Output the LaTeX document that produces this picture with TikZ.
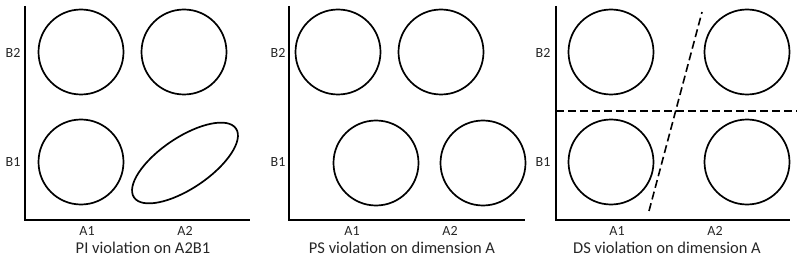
\documentclass[tikz,border=0pt]{standalone}
\usepackage{fontspec}
\setmainfont{Carlito}
\usetikzlibrary{shapes.geometric}
\tikzset{
    axis/.style={line width=1.8pt},
    cell/.style={circle, draw, line width=1.7pt, minimum size=85pt, inner sep=0pt},
    level/.style={font=\fontsize{14}{16}\selectfont, text=black!85},
    caption/.style={font=\fontsize{16.5}{18}\selectfont, text=black!85},
    split/.style={line width=1.6pt, dash pattern=on 8pt off 4pt}
}

\begin{document}
\begin{tikzpicture}[x=1pt, y=-1pt]
        \useasboundingbox (0,0) rectangle (800,259);
        % coordinates
        \coordinate (Otop) at (25,6);   \coordinate (O) at (25,220);  \coordinate (Oend) at (250,220);
        \coordinate (Ptop) at (289,6);  \coordinate (P) at (289,220); \coordinate (Pend) at (525,220);
        \coordinate (Qtop) at (556,6);  \coordinate (Q) at (556,220); \coordinate (Qend) at (790,220);
        % axes
        \draw[axis] (Otop) -- (O) -- (Oend);
        \draw[axis] (Ptop) -- (P) -- (Pend);
        \draw[axis] (Qtop) -- (Q) -- (Qend);
        % levels of B
        \foreach \p/\x in {O/13, P/278, Q/543}
        {
            \node[level] (\p B2) at (\x,53) {B2};
            \node[level] (\p B1) at (\x,162) {B1};
        }
        % levels of A
        \foreach \p/\a/\b in {O/87/185, P/352/450, Q/617/715}
        {
            \node[level] (\p A1) at (\a,231) {A1};
            \node[level] (\p A2) at (\b,231) {A2};
        }
        % PI panel
        \node[cell] (O12) at (81,52) {};
        \node[cell] (O22) at (184,52) {};
        \node[cell] (O11) at (81,162) {};
        \node[ellipse, draw, line width=1.7pt, minimum width=123pt, minimum height=51pt,
            inner sep=0pt, rotate=34] (O21) at (185,163) {};
        % PS panel
        \node[cell] (P12) at (338,52) {};
        \node[cell] (P22) at (441,52) {};
        \node[cell] (P11) at (376,163) {};
        \node[cell] (P21) at (483,163) {};
        % DS panel
        \node[cell] (Q12) at (611,52) {};
        \node[cell] (Q22) at (747,52) {};
        \node[cell] (Q11) at (611,162) {};
        \node[cell] (Q21) at (747,162) {};
        \coordinate (Hl) at (556,111); \coordinate (Hr) at (797,111);
        \coordinate (Dl) at (649,211); \coordinate (Du) at (702,12);
        \draw[split] (Hl) -- (Hr);
        \draw[split] (Dl) -- (Du);
        % captions
        \node[caption] (Ocap) at (143,248) {PI violation on A2B1};
        \node[caption] (Pcap) at (402,248) {PS violation on dimension A};
        \node[caption] (Qcap) at (667,248) {DS violation on dimension A};
    \end{tikzpicture}
\end{document}
